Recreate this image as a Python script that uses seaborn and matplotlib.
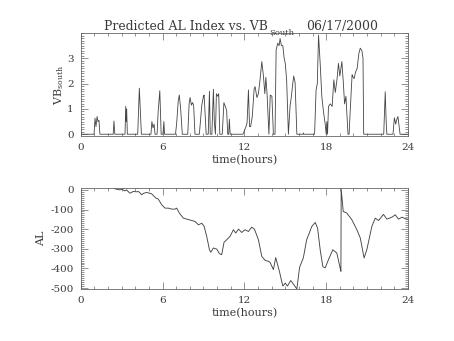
import matplotlib
matplotlib.use("Agg")
import matplotlib.pyplot as plt
import pandas as pd
import seaborn as sns
from matplotlib.ticker import FixedLocator, MultipleLocator

# Southward solar-wind driver VB_south (hours UT, value)
vb_hours = [0.0, 0.98, 1.05, 1.12, 1.2, 1.27, 1.34, 1.41,
            2.38, 2.44, 2.5,
            3.25, 3.3, 3.34, 3.37, 3.42,
            4.18, 4.3, 4.4, 4.45,
            5.15, 5.22, 5.3, 5.38, 5.45, 5.6, 5.68, 5.8, 5.9,
            6.03, 6.1, 6.15,
            6.95, 7.04, 7.15, 7.23, 7.33, 7.45,
            7.85, 7.95, 8.02, 8.12, 8.2, 8.28, 8.38,
            8.7, 8.88, 9.0, 9.05, 9.2, 9.35, 9.44, 9.5, 9.62, 9.73, 9.8, 9.88,
            9.95, 10.05, 10.12, 10.2,
            10.38, 10.5, 10.6, 10.7, 10.78, 10.85, 10.9, 10.96,
            11.9, 12.12, 12.2, 12.3, 12.38, 12.46, 12.58, 12.72, 12.79, 12.92,
            13.03, 13.15, 13.28, 13.4, 13.5, 13.58, 13.67, 13.8, 13.9, 14.02, 14.13,
            14.25, 14.33, 14.45, 14.55, 14.62, 14.72, 14.82, 14.92, 15.0, 15.1,
            15.23, 15.35, 15.45, 15.55, 15.62, 15.72, 15.85,
            16.3, 16.33, 16.36,
            17.15, 17.26, 17.35, 17.44, 17.56, 17.68, 17.8, 17.93, 18.0, 18.05,
            18.1, 18.17, 18.3, 18.44, 18.56, 18.67, 18.8, 18.9, 19.0, 19.15,
            19.25, 19.35, 19.45, 19.6,
            19.68, 19.77, 19.9, 19.95, 20.05, 20.15, 20.27, 20.4, 20.5, 20.62,
            20.7, 20.75,
            22.22, 22.33, 22.4, 22.45,
            22.9, 23.0, 23.1, 23.16, 23.26, 23.35, 23.42, 24.0]
vb_south = [0, 0, 0.63, 0.3, 0.7, 0.5, 0.55, 0,
            0, 0.52, 0,
            0, 1.1, 0.5, 1.0, 0,
            0, 1.82, 0.6, 0,
            0, 0.5, 0.25, 0.4, 0, 0, 0.9, 1.72, 0,
            0, 0.5, 0,
            0, 0.45, 1.3, 1.55, 1.0, 0,
            0, 1.2, 1.45, 1.15, 1.25, 1.15, 0,
            0, 1.15, 1.5, 1.55, 0, 0, 1.7, 0, 0, 1.78, 0.45, 0,
            1.6, 1.5, 1.6, 0,
            0, 1.25, 1.1, 0.95, 0, 0, 0.6, 0,
            0, 0.3, 0.45, 1.75, 0.3, 0.3, 0.7, 1.8, 1.88, 1.45,
            1.6, 2.15, 2.87, 2.3, 1.6, 2.25, 1.55, 0, 1.55, 1.5, 0,
            0, 3.33, 3.6, 3.5, 3.78, 3.5, 3.5, 3.0, 2.8, 2.15,
            0, 1.1, 1.5, 2.0, 2.3, 2.05, 0,
            0, 0.05, 0,
            0, 1.75, 2.0, 3.92, 2.8, 1.5, 0.9, 0.4, 0, 0.5,
            0, 1.1, 1.2, 1.1, 2.15, 1.65, 2.2, 2.8, 2.3, 2.87,
            2.1, 1.2, 1.5, 0,
            0, 1.0, 2.35, 2.28, 2.2, 2.45, 2.6, 3.2, 3.4, 3.3,
            3.0, 0,
            0, 1.68, 0.5, 0,
            0, 0.65, 0.4, 0.55, 0.7, 0.3, 0, 0]

# Predicted auroral-electrojet AL index (hours UT, nT)
al_hours = [2.52, 2.88, 3.0, 3.25, 3.37, 3.57, 3.62, 3.86, 4.1, 4.23, 4.47,
            4.6, 4.84, 5.2, 5.52, 5.69, 5.94, 6.18, 6.43, 6.67, 6.92, 7.04,
            7.23, 7.53, 7.77, 8.14, 8.39, 8.63, 8.88, 9.05, 9.24, 9.44, 9.54,
            9.73, 9.98, 10.17, 10.34, 10.51, 10.71, 10.95, 11.2, 11.37, 11.57,
            11.81, 12.05, 12.3, 12.54, 12.74, 13.03, 13.28, 13.52, 13.77,
            13.89, 14.13, 14.3, 14.57, 14.82, 15.0, 15.16, 15.4, 15.65, 15.85,
            16.05, 16.33, 16.57, 16.95, 17.2, 17.37, 17.57, 17.76, 17.93,
            18.17, 18.49, 18.78, 19.03, 19.08, 19.1, 19.25, 19.51, 19.88,
            20.25, 20.5, 20.78, 20.98, 21.35, 21.6, 21.84, 22.2, 22.45, 22.82,
            23.07, 23.3, 23.56, 23.8, 24.0]
al_index = [5, 0, 3, -5, 0, -15, -17, -8, -10, -8, -25,
            -18, -13, -20, -42, -47, -76, -93, -93, -98, -98, -93,
            -118, -144, -149, -156, -161, -178, -170, -186, -237, -305, -318,
            -296, -302, -325, -330, -267, -254, -237, -203, -220, -200,
            -217, -203, -212, -190, -200, -254, -339, -359, -364,
            -370, -406, -345, -415, -490, -475, -490, -462, -485, -505,
            -395, -345, -254, -186, -166, -195, -310, -392, -397,
            -355, -305, -322, -400, -415, 3, -110, -118, -152,
            -203, -245, -347, -305, -186, -144, -156, -125, -149, -139,
            -127, -149, -139, -147, -150]

hour_ticks = [0, 6, 12, 18, 24]
vb_ticks = [0, 1, 2, 3]
al_ticks = [0, -100, -200, -300, -400, -500]

sns.set_style("ticks")
plt.rcParams['font.family'] = ['DejaVu Serif']
plt.rcParams['mathtext.fontset'] = 'dejavuserif'
plt.rcParams['axes.unicode_minus'] = False

W, H = 454, 341
INK = '#3a3a3a'
fig = plt.figure(figsize=(W / 100, H / 100), dpi=100)


def box(left, top, right, bottom):
    return [left / W, 1 - bottom / H, (right - left) / W, (bottom - top) / H]


ax1 = fig.add_axes(box(80.7, 33, 408, 136))
ax2 = fig.add_axes(box(80.7, 188.3, 408, 289))

vb = pd.DataFrame({'hour': vb_hours, 'VB': vb_south})
al = pd.DataFrame({'hour': al_hours, 'AL': al_index})
sns.lineplot(data=vb, x='hour', y='VB', ax=ax1, estimator=None, sort=False,
             color='#444444', lw=0.6)
sns.lineplot(data=al, x='hour', y='AL', ax=ax2, estimator=None, sort=False,
             color='#444444', lw=0.65)


def style(ax, yticks, yminor, ylim):
    ax.set_xlim(0, 24)
    ax.set_ylim(*ylim)
    ax.xaxis.set_major_locator(FixedLocator(hour_ticks))
    ax.xaxis.set_minor_locator(MultipleLocator(1))
    ax.yaxis.set_major_locator(FixedLocator(yticks))
    ax.yaxis.set_minor_locator(MultipleLocator(yminor))
    ax.tick_params(which='both', direction='in', top=True, right=True,
                   color='#666666', width=0.5, labelsize=7.5, labelcolor=INK)
    ax.tick_params(which='major', length=5, pad=5)
    ax.tick_params(which='minor', length=2.5)
    for sp in ax.spines.values():
        sp.set_linewidth(0.6)
        sp.set_color('#666666')
    ax.set_xlabel('time(hours)', fontsize=8, color=INK, labelpad=2.5)


style(ax1, vb_ticks, 0.1, (-0.07, 4.0))
style(ax2, al_ticks, 10, (-505, 8))
ax1.set_ylabel(r'VB$_{\mathrm{south}}$', fontsize=8, color=INK, labelpad=1)
ax2.set_ylabel('AL', fontsize=8, color=INK, labelpad=3)

fig.text(268 / W, 1 - 30 / H, 'Predicted AL Index vs. VB', ha='right',
         va='baseline', fontsize=8.9, color=INK)
fig.text(269 / W, 1 - 35 / H, 'South', ha='left', va='baseline',
         fontsize=6, color=INK)
fig.text(306 / W, 1 - 30 / H, '06/17/2000', ha='left', va='baseline',
         fontsize=8.9, color=INK)

fig.savefig('out.png', dpi=100)
